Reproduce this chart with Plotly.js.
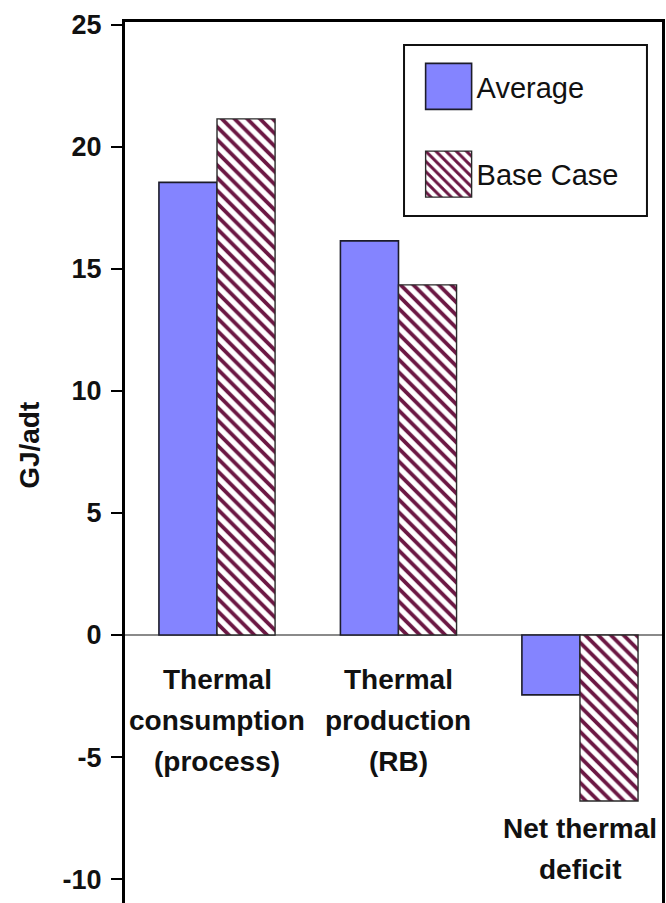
<!DOCTYPE html>
<html>
<head>
<meta charset="utf-8">
<script src="https://cdn.plot.ly/plotly-3.0.1.min.js"></script>
<style>
  html, body { margin: 0; padding: 0; background: #ffffff; }
  #chart { width: 666px; height: 903px; }
</style>
</head>
<body>
<div id="chart"></div>
<script>
// Thermal energy balance, GJ per air-dried tonne
const categories = ['Thermal consumption (process)', 'Thermal production (RB)', 'Net thermal deficit'];
const categoryLabelLines = [
  ['Thermal', 'consumption', '(process)'],
  ['Thermal', 'production', '(RB)'],
  ['Net thermal', 'deficit']
];
const seriesNames = ['Average', 'Base Case'];
const averageValues = [18.55, 16.15, -2.45];
const baseCaseValues = [21.15, 14.35, -6.8];
const yTickValues = [-10, -5, 0, 5, 10, 15, 20, 25];
const yAxisTitle = 'GJ/adt';

// styling / layout constants
const FONT = 'Liberation Sans, Arial, Helvetica, sans-serif';
const AVG_COLOR = '#8484ff';
const HATCH_COLOR = '#6b1743';
const OUTLINE = '#1c1c2a';
const LABEL_SIZE = 28;
const LABEL_LINE_GAP = 41;
const labelFirstOffset = [44, 44, 28];

const traces = [
  {
    type: 'bar',
    name: seriesNames[0],
    x: categories,
    y: averageValues,
    legendgroup: 'a',
    marker: { color: AVG_COLOR, line: { color: OUTLINE, width: 1.6 } },
    hoverinfo: 'skip'
  },
  {
    type: 'bar',
    name: seriesNames[1],
    x: categories,
    y: baseCaseValues,
    legendgroup: 'b',
    marker: {
      color: '#ffffff',
      line: { color: '#2a2a2a', width: 1.4 },
      pattern: { shape: '\\', fgcolor: HATCH_COLOR, bgcolor: '#ffffff', size: 9, solidity: 0.42, fillmode: 'replace' }
    },
    hoverinfo: 'skip'
  }
];

// multi-line category labels, placed under the lowest point of each group
const annotations = [];
categoryLabelLines.forEach((lines, i) => {
  const anchor = Math.min(0, averageValues[i], baseCaseValues[i]);
  lines.forEach((line, j) => {
    annotations.push({
      x: categories[i], y: anchor, xref: 'x', yref: 'y',
      text: line, showarrow: false,
      xanchor: 'center', yanchor: 'middle',
      yshift: -(labelFirstOffset[i] + j * LABEL_LINE_GAP),
      font: { family: FONT, size: LABEL_SIZE, color: '#111', weight: 'bold' }
    });
  });
});

annotations.push({
  xref: 'paper', yref: 'paper', x: -0.177, y: 0.52,
  text: yAxisTitle, showarrow: false, textangle: -90,
  xanchor: 'center', yanchor: 'middle',
  font: { family: FONT, size: 28, color: '#111', weight: 'bold' }
});

const layout = {
  width: 666,
  height: 903,
  margin: { l: 125, r: 4, t: 22, b: 0, pad: 0 },
  paper_bgcolor: '#ffffff',
  plot_bgcolor: '#ffffff',
  barmode: 'group',
  bargap: 0.36,
  bargroupgap: 0,
  showlegend: true,
  legend: {
    x: 0.5505, y: 0.9557, xanchor: 'left', yanchor: 'top',
    bgcolor: 'rgba(0,0,0,0)', borderwidth: 0,
    font: { family: FONT, size: 29, color: '#111' },
    itemwidth: 46, tracegroupgap: 47
  },
  xaxis: {
    type: 'category',
    range: [-0.507, 2.452],
    showticklabels: false,
    ticks: '',
    showgrid: false,
    zeroline: false,
    showline: true, mirror: true, linecolor: '#000', linewidth: 3
  },
  yaxis: {
    range: [-10.98, 25.12],
    tickvals: yTickValues,
    ticktext: yTickValues.map(String),
    ticks: 'outside', ticklen: 11, tickwidth: 2, tickcolor: '#000',
    ticklabelstandoff: 4,
    tickfont: { family: FONT, size: 27, color: '#111', weight: 'bold' },
    showgrid: false,
    zeroline: true, zerolinecolor: '#8a8a8a', zerolinewidth: 1.5,
    showline: true, mirror: true, linecolor: '#000', linewidth: 3
  },
  shapes: [
    {
      type: 'rect', xref: 'paper', yref: 'paper',
      x0: 0.5196, x1: 0.972, y0: 0.7798, y1: 0.9739,
      line: { color: '#111', width: 2 }, fillcolor: 'rgba(0,0,0,0)'
    }
  ],
  annotations: annotations
};

function enlargeLegendSwatches(gd) {
  gd.querySelectorAll('g.legendpoints path').forEach(p => {
    p.setAttribute('d', 'M23,23H-23V-23H23Z');
  });
}

Plotly.newPlot('chart', traces, layout, { staticPlot: true, displayModeBar: false }).then(gd => {
  enlargeLegendSwatches(gd);
  requestAnimationFrame(() => enlargeLegendSwatches(gd));
});
</script>
</body>
</html>
